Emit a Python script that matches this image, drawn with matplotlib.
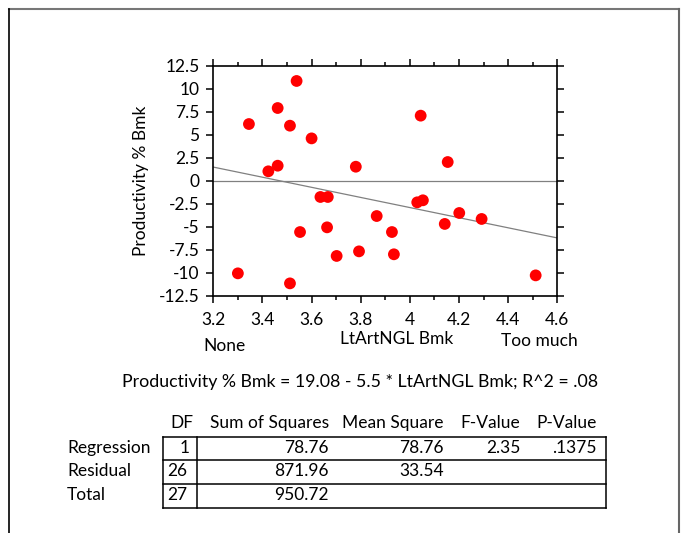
import matplotlib
matplotlib.use("Agg")
import matplotlib.pyplot as plt
from matplotlib.lines import Line2D
from matplotlib.ticker import MultipleLocator
import numpy as np

plt.rcParams['font.family'] = ['Lato', 'DejaVu Sans']

# scatter points
lt_art = [3.345, 3.462, 3.539, 3.512, 3.600, 3.424, 3.462, 3.780, 4.044, 4.154,
          3.636, 3.666, 4.030, 4.053, 3.865, 4.201, 4.292, 4.142, 3.553, 3.663,
          3.927, 3.702, 3.793, 3.935, 3.300, 3.512, 4.512]
productivity = [6.16, 7.90, 10.84, 5.98, 4.60, 1.02, 1.63, 1.52, 7.07, 2.03,
                -1.77, -1.77, -2.35, -2.13, -3.84, -3.51, -4.16, -4.70, -5.58, -5.07,
                -5.58, -8.18, -7.68, -8.00, -10.07, -11.16, -10.29]

# fit from the equation under the chart
intercept = 19.08
slope = -5.5
equation = "Productivity % Bmk = 19.08 - 5.5 * LtArtNGL Bmk; R^2 = .08"

# anova table
col_heads = ["DF", "Sum of Squares", "Mean Square", "F-Value", "P-Value"]
row_names = ["Regression", "Residual", "Total"]
df_vals = ["1", "26", "27"]
ss_vals = ["78.76", "871.96", "950.72"]
ms_vals = ["78.76", "33.54", ""]
f_vals = ["2.35", "", ""]
p_vals = [".1375", "", ""]

W, H = 681, 533
FS = 12.5
fig = plt.figure(figsize=(W / 100, H / 100), dpi=100)


def fx(x):
    return x / W


def fy(y):
    return 1 - y / H


# outer frame
fig.add_artist(Line2D([fx(9), fx(679)], [fy(9), fy(9)], color='#777777', lw=1.5))
fig.add_artist(Line2D([fx(9), fx(9)], [fy(9), fy(540)], color='black', lw=1.2))
fig.add_artist(Line2D([fx(679), fx(679)], [fy(9), fy(540)], color='#666666', lw=1.5))

ax = fig.add_axes([fx(213.3), fy(295.7), fx(557.3) - fx(213.3), fy(65.7) - fy(295.7)])
ax.set_xlim(3.2, 4.6)
ax.set_ylim(-12.5, 12.5)

ax.axhline(0, color='#808080', lw=0.9, zorder=1)
xl = np.array([3.2, 4.6])
ax.plot(xl, intercept + slope * xl, color='#808080', lw=0.9, zorder=1)
ax.scatter(lt_art, productivity, s=72, color='red', edgecolors='none', zorder=3)

ax.xaxis.set_minor_locator(MultipleLocator(0.1))
ax.set_xticks(np.arange(3.2, 4.61, 0.2))
ax.set_xticklabels(["3.2", "3.4", "3.6", "3.8", "4", "4.2", "4.4", "4.6"])
ax.set_yticks(np.arange(-12.5, 12.6, 2.5))
ax.set_yticklabels(["-12.5", "-10", "-7.5", "-5", "-2.5", "0", "2.5", "5",
                    "7.5", "10", "12.5"])
ax.tick_params(which='both', direction='out', top=True, right=True,
               labelsize=FS, width=1.1, color='black')
ax.tick_params(which='major', length=5)
ax.tick_params(which='minor', length=3)
ax.tick_params(axis='x', pad=7)
ax.tick_params(axis='y', pad=5)
for s in ax.spines.values():
    s.set_linewidth(1.2)

ax.set_ylabel("Productivity % Bmk", fontsize=FS, labelpad=7)

fig.text(fx(203), fy(346), "None", fontsize=FS, ha='left', va='center')
fig.text(fx(397), fy(339), "LtArtNGL Bmk", fontsize=FS, ha='center', va='center')
fig.text(fx(578), fy(341), "Too much", fontsize=FS, ha='right', va='center')
fig.text(fx(360), fy(382), equation, fontsize=12.8, ha='center', va='center')

# anova table
head_y = 423
row_y = [448, 471.5, 495.5]
col_right = [None, 329, 443.5, 520.5, 596.5]
fig.text(fx(193), fy(head_y), col_heads[0], fontsize=FS, ha='right', va='center')
for j in range(1, 5):
    fig.text(fx(col_right[j]), fy(head_y), col_heads[j], fontsize=FS,
             ha='right', va='center')
for i in range(3):
    fig.text(fx(67), fy(row_y[i]), row_names[i], fontsize=FS, ha='left', va='center')
    if len(df_vals[i]) == 1:
        fig.text(fx(189.5), fy(row_y[i]), df_vals[i], fontsize=FS, ha='right', va='center')
    else:
        fig.text(fx(167), fy(row_y[i]), df_vals[i], fontsize=FS, ha='left', va='center')
    for j, vals in zip(range(1, 5), [ss_vals, ms_vals, f_vals, p_vals]):
        if vals[i]:
            fig.text(fx(col_right[j]), fy(row_y[i]), vals[i], fontsize=FS,
                     ha='right', va='center')

tl, tr = 162.5, 605.5
for y in [436.5, 459.5, 483.5, 507.5]:
    fig.add_artist(Line2D([fx(tl), fx(tr)], [fy(y), fy(y)], color='black', lw=1.1))
for x in [tl, 197, tr]:
    fig.add_artist(Line2D([fx(x), fx(x)], [fy(436.5), fy(507.5)], color='black', lw=1.1))

fig.savefig("out.png", dpi=100, facecolor='white')
